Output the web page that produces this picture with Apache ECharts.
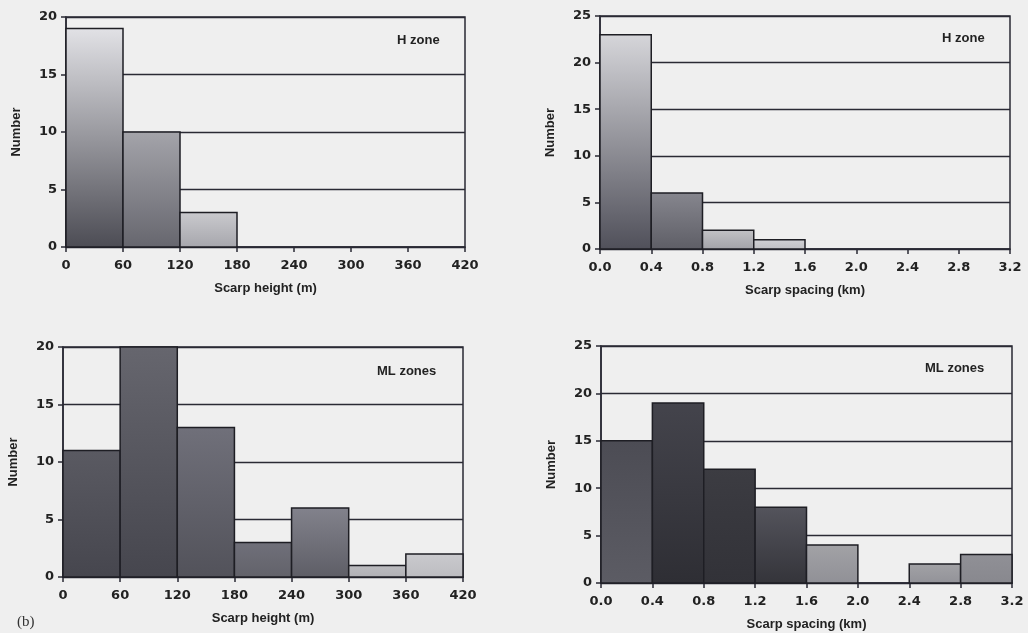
<!DOCTYPE html>
<html>
<head>
<meta charset="utf-8">
<script src="https://cdn.jsdelivr.net/npm/echarts@6/dist/echarts.min.js"></script>
<style>
html,body{margin:0;padding:0;background:#efefef;}
#chart{width:1028px;height:633px;}
</style>
</head>
<body>
<div id="chart"></div>
<script>
// ---- Data ----
const heightEdges = [0, 60, 120, 180, 240, 300, 360, 420];
const spacingEdges = [0, 0.4, 0.8, 1.2, 1.6, 2.0, 2.4, 2.8, 3.2];
const hHeightCounts = [19, 10, 3, 0, 0, 0, 0];
const hSpacingCounts = [23, 6, 2, 1, 0, 0, 0, 0];
const mlHeightCounts = [11, 20, 13, 3, 6, 1, 2];
const mlSpacingCounts = [15, 19, 12, 8, 4, 0, 2, 3];
const panelLabels = ['H zone', 'H zone', 'ML zones', 'ML zones'];
const xTitles = ['Scarp height (m)', 'Scarp spacing (km)', 'Scarp height (m)', 'Scarp spacing (km)'];
const yTitle = 'Number';

// ---- Styles (fill shades, top -> bottom) ----
const shades = [
  [['#e2e2e6', '#4c4c54'], ['#a4a4aa', '#66666e'], ['#cacace', '#a6a6ac']],
  [['#d6d6da', '#50505a'], ['#86868e', '#5e5e66'], ['#c2c2c6', '#a2a2a8'], ['#d2d2d6', '#c0c0c4']],
  [['#5a5a62', '#46464e'], ['#66666e', '#46464e'], ['#70707a', '#52525a'], ['#70707a', '#62626a'], ['#82828c', '#5e5e66'], ['#bcbcc0', '#b0b0b4'], ['#cacace', '#bcbcc0']],
  [['#4c4c54', '#5c5c64'], ['#44444c', '#2e2e34'], ['#3c3c42', '#323238'], ['#54545c', '#34343a'], ['#a2a2a6', '#909096'], ['#999', '#999'], ['#a2a2a6', '#929298'], ['#909096', '#88888e']]
];

const grids = [
  {left: 66, top: 17, width: 399, height: 230},
  {left: 600, top: 16, width: 410, height: 233},
  {left: 63, top: 347, width: 400, height: 230},
  {left: 601, top: 346, width: 411, height: 237}
];
const panels = [
  {edges: heightEdges, counts: hHeightCounts, ymax: 20, xint: 60, fmt: v => String(v)},
  {edges: spacingEdges, counts: hSpacingCounts, ymax: 25, xint: 0.4, fmt: v => v.toFixed(1)},
  {edges: heightEdges, counts: mlHeightCounts, ymax: 20, xint: 60, fmt: v => String(v)},
  {edges: spacingEdges, counts: mlSpacingCounts, ymax: 25, xint: 0.4, fmt: v => v.toFixed(1)}
];

const lineCol = '#2a2a34';
const labelFont = {fontFamily: 'DejaVu Sans', fontWeight: 'bold', fontSize: 13, color: '#222'};
const titleFont = {fontFamily: 'Liberation Sans', fontWeight: 'bold', fontSize: 13, color: '#222'};

const option = {
  backgroundColor: '#efefef',
  animation: false,
  grid: grids.map(g => Object.assign({show: true, borderColor: lineCol, borderWidth: 1.5, backgroundColor: 'transparent'}, g)),
  xAxis: panels.map((p, i) => ({
    type: 'value', gridIndex: i, min: 0, max: p.edges[p.edges.length - 1], interval: p.xint,
    axisLine: {show: true, lineStyle: {color: lineCol, width: 1.5}},
    axisTick: {show: true, length: 5, lineStyle: {color: lineCol, width: 1.5}},
    axisLabel: Object.assign({margin: 12, formatter: p.fmt, showMaxLabel: true}, labelFont),
    splitLine: {show: false},
    name: xTitles[i], nameLocation: 'middle', nameGap: 35, nameTextStyle: titleFont
  })),
  yAxis: panels.map((p, i) => ({
    type: 'value', gridIndex: i, min: 0, max: p.ymax, interval: 5,
    axisLine: {show: true, lineStyle: {color: lineCol, width: 1.5}},
    axisTick: {show: true, length: 5, lineStyle: {color: lineCol, width: 1.5}},
    axisLabel: Object.assign({margin: 9}, labelFont),
    splitLine: {show: true, lineStyle: {color: lineCol, width: 1.3}},
    name: yTitle, nameLocation: 'middle', nameGap: 43, nameTextStyle: titleFont
  })),
  title: [
    {text: panelLabels[0], left: 392, top: 29},
    {text: panelLabels[1], left: 937, top: 27},
    {text: panelLabels[2], left: 372, top: 360},
    {text: panelLabels[3], left: 920, top: 357},
    {text: '(b)', left: 12, top: 610, textStyle: {fontFamily: 'Liberation Serif', fontWeight: 'normal', fontSize: 15, color: '#333'}}
  ].map(t => Object.assign({textStyle: Object.assign({}, titleFont, {fontSize: 13})}, t)),
  series: panels.map((p, i) => ({
    type: 'custom', xAxisIndex: i, yAxisIndex: i, z: 5,
    data: p.counts.map((c, k) => [p.edges[k], p.edges[k + 1], c, k]).filter(d => d[2] > 0),
    renderItem: function (params, api) {
      const x0 = api.value(0), x1 = api.value(1), c = api.value(2), k = api.value(3);
      const p0 = api.coord([x0, c]);
      const p1 = api.coord([x1, 0]);
      const sh = shades[i][k];
      return {
        type: 'rect',
        shape: {x: p0[0], y: p0[1], width: p1[0] - p0[0], height: p1[1] - p0[1]},
        style: {
          fill: new echarts.graphic.LinearGradient(0, 0, 0, 1, [{offset: 0, color: sh[0]}, {offset: 1, color: sh[1]}]),
          stroke: '#1e1e24', lineWidth: 1.5
        }
      };
    }
  }))
};

const chart = echarts.init(document.getElementById('chart'), null, {renderer: 'canvas'});
chart.setOption(option);
</script>
</body>
</html>
